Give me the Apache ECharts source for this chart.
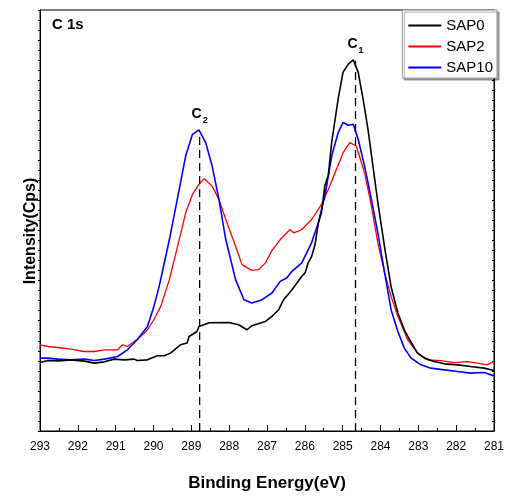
<!DOCTYPE html>
<html>
<head>
<meta charset="utf-8">
<script src="https://cdn.jsdelivr.net/npm/echarts@6/dist/echarts.min.js"></script>
<style>html,body{margin:0;padding:0;background:#fff}#c{width:507px;height:498px}</style>
</head>
<body>
<div id="c"></div>
<script>
var xTicks = [293,292,291,290,289,288,287,286,285,284,283,282,281];
var seriesNames = ['SAP0','SAP2','SAP10'];

var be0 = [293.0,292.79,292.53,292.18,291.83,291.56,291.30,291.04,290.77,290.51,290.43,290.16,289.90,289.72,289.55,289.29,289.11,289.06,288.85,288.80,288.67,288.53,288.01,287.75,287.53,287.40,287.04,286.87,286.78,286.69,286.56,286.34,286.08,285.99,285.91,285.82,285.73,285.64,285.56,285.47,285.38,285.29,285.12,284.99,284.85,284.72,284.59,284.46,284.33,284.20,284.07,283.89,283.72,283.54,283.37,283.28,283.02,282.84,282.58,282.31,281.96,281.62,281.26,281.00];
var int0 = [68.3,70.3,70,71,69.7,67.7,69,71.7,71,71.7,70.3,71,75,75,77.7,86,87.7,94.3,99.3,104.3,106,108,108.3,106,101,105,109.3,114.3,117.7,121,131,141,154.3,158,168,174.3,186,208,218,245,255,288,331,358,366,370.3,358,331,301,264.3,228,183,144,117.7,101,94.3,77.7,72.7,69.3,67,66,64.3,62.7,60.3];

var be2 = [293.0,292.79,292.53,292.18,291.83,291.56,291.30,290.95,290.82,290.69,290.51,290.34,290.16,289.99,289.81,289.58,289.32,289.15,288.97,288.80,288.66,288.45,288.27,288.09,287.83,287.66,287.40,287.22,287.04,286.87,286.65,286.39,286.30,286.17,286.08,285.82,285.56,285.38,285.20,284.99,284.81,284.64,284.42,284.24,284.07,283.89,283.72,283.54,283.28,283.02,282.75,282.40,282.05,281.70,281.44,281.18,281.00];
var int2 = [86,84.3,83.3,81.7,79.3,79.3,81,81,86,84.3,89.3,94.3,101,111,124.3,151,191,217.7,236,246,251.7,244.3,231,211,184.3,166,160.3,161,167.7,180,191,201,197.7,199.3,201,211,226,241,257.7,277.7,287.7,284.3,257.7,224.3,187.7,157.7,134.3,114.3,91,77.7,71,70.3,68.3,69.3,67.7,66,69.3];

var be10 = [293.0,292.79,292.53,292.18,291.83,291.56,291.30,290.95,290.69,290.43,290.16,289.99,289.85,289.58,289.32,289.15,288.97,288.80,288.62,288.45,288.27,288.09,287.83,287.61,287.40,287.13,286.87,286.65,286.48,286.34,286.08,285.82,285.64,285.56,285.47,285.29,285.12,284.99,284.85,284.72,284.59,284.42,284.24,284.07,283.89,283.72,283.54,283.37,283.19,282.93,282.67,282.31,281.96,281.62,281.26,281.00];
var int10 = [72.7,72.7,71.7,71,71.7,70.3,71.7,74.3,81,91,104.3,124.3,144.3,191,241,274.3,296,300.3,287.7,264.3,231,191,151,131,127.7,131,137.7,149.3,152.7,159.3,167.7,188,208,221,234.3,274.3,297.7,307.7,305,306,291,264.3,231,197.7,157.7,121,99.3,82.7,72.7,66,62.7,61,59.3,57.7,58.3,55];

var peakNames = ['1','2'];
var peakBE = [284.66, 288.78];
var peakTop = [369, 299];

function pairs(a,b){return a.map(function(v,i){return [v,b[i]];});}

var chart = echarts.init(document.getElementById('c'));
var font = 'Liberation Sans, Arial, sans-serif';
var colors = ['#000000','#ff0000','#0000ff'];
var widths = [1.6,1.3,1.6];
var ints = [int0,int2,int10];
var bes = [be0,be2,be10];
var lineSeries = seriesNames.map(function(n,i){
  return {name:n, type:'line', data:pairs(bes[i],ints[i]), symbol:'none', smooth:false,
    lineStyle:{color:colors[i], width:widths[i]}, itemStyle:{color:colors[i]}, z: i===0 ? 3 : 2};
});
var dashSeries = peakBE.map(function(b,i){
  return {
    type:'line', silent:true, symbol:'none', z:4,
    lineStyle:{color:'#000', width:1.3, type:[8,5]},
    data:[[b,0],[b,peakTop[i]]]
  };
});
var labelSeries = {
  type:'scatter', silent:true, symbolSize:1, z:5,
  itemStyle:{color:'#000000', opacity:1},
  data: peakBE.map(function(b,i){return {value:[b,peakTop[i]], name:peakNames[i]};}),
  label:{
    show:true, position:'top', distance:6, color:'#000', opacity:1,
    formatter:function(p){return '{c|C}{s|' + p.name + '}';},
    rich:{c:{fontSize:14, fontWeight:'bold', color:'#000', fontFamily:font},
          s:{fontSize:9, fontWeight:'bold', color:'#000', fontFamily:font, padding:[12,0,0,1]}}
  }
};

chart.setOption({
  animation:false,
  backgroundColor:'#ffffff',
  grid:{left:40, right:10, top:10, bottom:67, show:true, borderColor:'#000', borderWidth:1},
  legend:{
    data:seriesNames.map(function(n){return {name:n, icon:'rect'};}),
    orient:'vertical', right:10, top:10,
    itemWidth:33, itemHeight:2, itemGap:6,
    padding:[8,4,3,6],
    backgroundColor:'#fff', borderColor:'#999', borderWidth:1,
    shadowColor:'rgba(0,0,0,0.35)', shadowOffsetX:2, shadowOffsetY:2, shadowBlur:1,
    textStyle:{fontSize:15, color:'#000', fontFamily:font, lineHeight:14}
  },
  xAxis:{
    type:'value', min:281, max:293, interval:1, inverse:true,
    name:'Binding Energy(eV)', nameLocation:'middle', nameGap:44,
    nameTextStyle:{fontSize:17, fontWeight:'bold', color:'#000', fontFamily:font},
    axisLine:{lineStyle:{color:'#000', width:1}},
    axisTick:{inside:true, length:6, lineStyle:{color:'#000'}},
    minorTick:{show:true, splitNumber:2, length:3, lineStyle:{color:'#000'}},
    axisLabel:{fontSize:12, color:'#000', fontFamily:font, margin:10,
      formatter:function(v){return xTicks.indexOf(v)>=0 ? String(v) : '';}},
    splitLine:{show:false}
  },
  yAxis:[
    {type:'value', min:0, max:420, interval:10,
     axisLine:{show:true, lineStyle:{color:'#000'}},
     axisTick:{show:true, inside:false, length:2, lineStyle:{color:'#000'}},
     axisLabel:{show:false}, splitLine:{show:false}},
    {type:'value', min:0, max:420, interval:10, position:'right',
     axisLine:{show:true, lineStyle:{color:'#000'}},
     axisTick:{show:true, inside:true, length:2, lineStyle:{color:'#000'}},
     axisLabel:{show:false}, splitLine:{show:false}}
  ],
  graphic:[
    {type:'text', x:31, y:231, rotation:Math.PI/2,
     style:{text:'Intensity(Cps)', font:'bold 16px ' + font, fill:'#000', align:'center', verticalAlign:'middle'}},
    {type:'text', x:52, y:25,
     style:{text:'C 1s', font:'bold 15px ' + font, fill:'#000', align:'left', verticalAlign:'middle'}}
  ],
  series: lineSeries.concat(dashSeries).concat([labelSeries])
});
</script>
</body>
</html>
